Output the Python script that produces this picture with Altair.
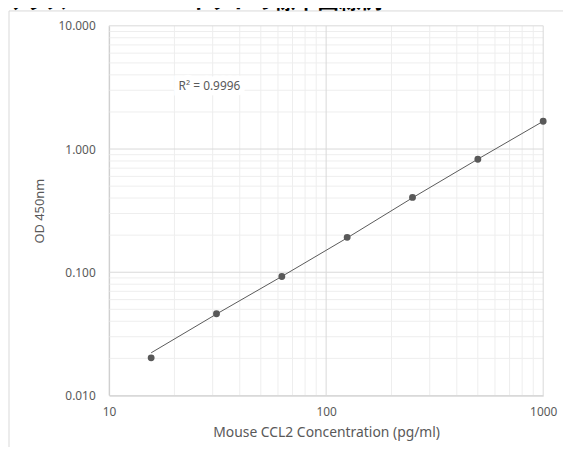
import altair as alt
import pandas as pd

# ---- data ----
title_text = "マウスCCL2 ELISAキットの標準曲線例"
conc = [15.625, 31.25, 62.5, 125, 250, 500, 1000]
od = [0.0202, 0.0461, 0.0923, 0.192, 0.405, 0.826, 1.68]
fit_conc = [15.625, 31.25, 62.5, 125, 250, 500, 1000]
fit_od = [0.0222, 0.0458, 0.0925, 0.190, 0.402, 0.828, 1.68]
x_major = [10, 100, 1000]
x_minor = [20, 30, 40, 50, 60, 70, 80, 90, 200, 300, 400, 500, 600, 700, 800, 900]
y_major = [0.01, 0.1, 1, 10]
y_minor = [0.02, 0.03, 0.04, 0.05, 0.06, 0.07, 0.08, 0.09,
           0.2, 0.3, 0.4, 0.5, 0.6, 0.7, 0.8, 0.9,
           2, 3, 4, 5, 6, 7, 8, 9]
r2_label = ["R² = 0.9996"]
r2_x = [29]
r2_y = [3.27]
x_title = "Mouse CCL2  Concentration (pg/ml)"
y_title = "OD 450nm"

FONT = "Noto Sans"
GRAY = "#595959"

xs = alt.Scale(type="log", domain=[10, 1000], nice=False)
ys = alt.Scale(type="log", domain=[0.01, 10], nice=False)

xaxis = alt.Axis(
    values=x_major, format="d", grid=False, ticks=False, domainColor="#bfbfbf",
    labelFlush=False, labelColor=GRAY, labelFont=FONT, labelFontSize=12, labelPadding=11,
    title=x_title, titleFont=FONT, titleFontSize=14, titleFontWeight="normal",
    titleColor=GRAY, titlePadding=8)
yaxis = alt.Axis(
    values=y_major, format=".3f", grid=False, ticks=False, domainColor="#bfbfbf",
    labelFlush=False, labelColor=GRAY, labelFont=FONT, labelFontSize=12, labelPadding=14,
    title=y_title, titleFont=FONT, titleFontSize=13, titleFontWeight="normal",
    titleColor=GRAY, titlePadding=12)

X = alt.X("conc:Q", scale=xs, axis=xaxis)
Y = alt.Y("od:Q", scale=ys, axis=yaxis)

pts = pd.DataFrame({"conc": conc, "od": od})
fit = pd.DataFrame({"conc": fit_conc, "od": fit_od})
one = pd.DataFrame({"k": [0]})

frame = alt.Chart(one).mark_rect(fill="white", fillOpacity=0, stroke="#d9d9d9", strokeWidth=1).encode(
    x=alt.value(-101), x2=alt.value(600), y=alt.value(-15), y2=alt.value(600)
)

title = alt.Chart(one).mark_text(
    text=title_text, font="Noto Sans CJK JP", fontSize=22, fontWeight="bold",
    color="#000000", align="left", baseline="alphabetic"
).encode(x=alt.value(-108), y=alt.value(-18))

vminor = alt.Chart(pd.DataFrame({"conc": x_minor})).mark_rule(color="#eeeeee", strokeWidth=1).encode(x=X)
hminor = alt.Chart(pd.DataFrame({"od": y_minor})).mark_rule(color="#eeeeee", strokeWidth=1).encode(y=Y)
vmajor = alt.Chart(pd.DataFrame({"conc": x_major})).mark_rule(color="#d9d9d9", strokeWidth=1).encode(x=X)
hmajor = alt.Chart(pd.DataFrame({"od": y_major})).mark_rule(color="#d9d9d9", strokeWidth=1).encode(y=Y)

lab = pd.DataFrame({"t": r2_label, "conc": r2_x, "od": r2_y})
r2_bg = alt.Chart(lab).mark_text(font=FONT, fontSize=12, color="white", stroke="white",
                                 strokeWidth=11, align="center", baseline="middle").encode(
    x=X, y=Y, text="t:N")
r2 = alt.Chart(lab).mark_text(font=FONT, fontSize=12, color=GRAY, align="center",
                              baseline="middle").encode(x=X, y=Y, text="t:N")

line = alt.Chart(fit).mark_line(color=GRAY, strokeWidth=1).encode(x=X, y=Y)

dots = alt.Chart(pts).mark_circle(size=48, color=GRAY, opacity=1).encode(x=X, y=Y)

chart = alt.layer(frame, title, vminor, hminor, vmajor, hmajor, r2_bg, r2, line, dots).properties(
    width=438, height=373,
    autosize=alt.AutoSizeParams(type="none"),
    padding={"left": 102, "top": 16, "right": 20, "bottom": 50},
    background="white",
).configure_view(stroke=None).configure_axis(grid=False)

chart.save("out.html", embed_options={"renderer": "svg", "actions": False})
